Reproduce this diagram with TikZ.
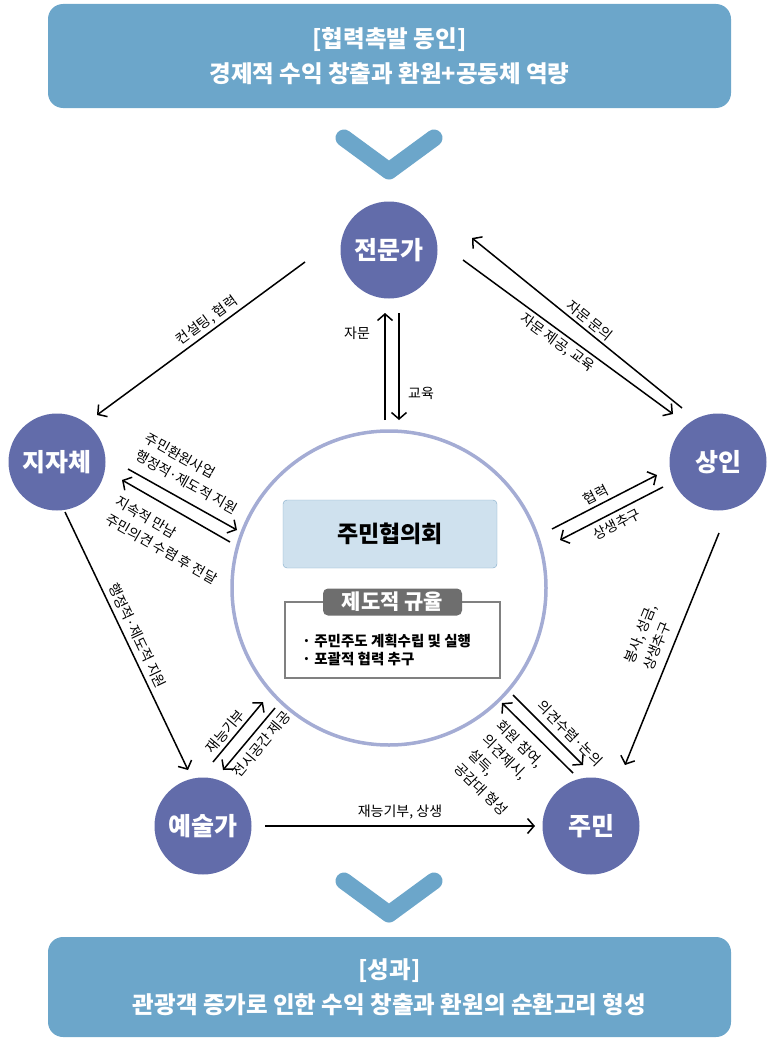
\documentclass[tikz,border=0pt]{standalone}
\usepackage{fontspec}
\setmainfont{Noto Sans CJK KR}
\usetikzlibrary{arrows.meta}
\definecolor{bannerblue}{RGB}{108,166,202}
\definecolor{nodeblue}{RGB}{98,108,170}
\definecolor{ringblue}{RGB}{164,172,212}
\definecolor{boxfill}{RGB}{207,225,238}
\definecolor{boxline}{RGB}{130,170,200}
\definecolor{tabgray}{RGB}{110,110,110}
\definecolor{boxgray}{RGB}{128,128,128}
\begin{document}
\begin{tikzpicture}[x=1pt,y=-1pt,
 banner/.style={fill=bannerblue, rounded corners=15pt, minimum width=683pt, text=white,
   font=\fontsize{23.5}{35}\selectfont\bfseries, align=center, inner sep=0pt},
 actor/.style={circle, fill=nodeblue, minimum size=97pt, inner sep=0pt, text=white,
   font=\fontsize{25}{28}\selectfont\bfseries},
 conn/.style={line width=1.5pt, -{Straight Barb[length=6.5pt,width=15pt,line width=1.5pt]}},
 lbl/.style={font=\fontsize{14}{20}\selectfont, inner sep=3pt, align=left},
 chev/.style={line width=17pt, line cap=round, line join=round, draw=bannerblue}
]
\useasboundingbox (0,0) rectangle (767,1041);

% banners
\node[banner, minimum height=104pt] (top) at (389.5,56) {[협력촉발 동인]\\경제적 수익 창출과 환원+공동체 역량};
\node[banner, minimum height=100pt] (bot) at (389.5,987) {[성과]\\관광객 증가로 인한 수익 창출과 환원의 순환고리 형성};

% chevrons
\draw[chev] (344,138) -- (389,171) -- (434,138);
\draw[chev] (344,881) -- (389,914) -- (434,881);

% ring and centre
\node[circle, draw=ringblue, line width=3.5pt, minimum size=314pt, inner sep=0pt] (ring) at (389,588) {};
\node[draw=boxline, fill=boxfill, rounded corners=4pt, minimum width=214pt, minimum height=68pt,
  font=\fontsize{23}{26}\selectfont\bfseries] (council) at (390,534) {주민협의회};
\node[draw=boxgray, line width=1.2pt, fill=white, minimum width=215pt, minimum height=76pt] (rules) at (392.5,640) {};
\node[fill=tabgray, rounded corners=5pt, minimum width=139pt, minimum height=27pt, inner sep=0pt,
  text=white, font=\fontsize{21}{24}\selectfont\bfseries] (tab) at (392.5,602) {제도적 규율};
\node[anchor=west, align=left, inner sep=0pt, font=\fontsize{14.5}{18}\selectfont\bfseries] (bul) at (302,650)
  {· 주민주도 계획수립 및 실행\\· 포괄적 협력 추구};

% actors
\node[actor] (exp) at (389,250) {전문가};
\node[actor] (gov) at (57,462) {지자체};
\node[actor] (mer) at (718,462) {상인};
\node[actor] (art) at (203,826) {예술가};
\node[actor] (res) at (591,826) {주민};

% connector ends
\coordinate (e1a) at (305,262); \coordinate (e1b) at (97,415);
\coordinate (e2a) at (682,408); \coordinate (e2b) at (472,238);
\coordinate (e3a) at (463,260); \coordinate (e3b) at (673,414);
\coordinate (e4a) at (385,420); \coordinate (e4b) at (385,313);
\coordinate (e5a) at (399,313); \coordinate (e5b) at (399,420);
\coordinate (e6a) at (128,469); \coordinate (e6b) at (237,530);
\coordinate (e7a) at (230,542); \coordinate (e7b) at (122,480);
\coordinate (e8a) at (65,512);  \coordinate (e8b) at (188,770);
\coordinate (e9a) at (552,529); \coordinate (e9b) at (657,475);
\coordinate (e10a) at (663,487); \coordinate (e10b) at (560,540);
\coordinate (e11a) at (719,533); \coordinate (e11b) at (625,765);
\coordinate (e12a) at (213,762); \coordinate (e12b) at (263,702);
\coordinate (e13a) at (275,708); \coordinate (e13b) at (223,770);
\coordinate (e14a) at (513,695); \coordinate (e14b) at (583,765);
\coordinate (e15a) at (573,773); \coordinate (e15b) at (502,703);
\coordinate (e16a) at (265,826); \coordinate (e16b) at (535,826);

% connectors
\draw[conn] (e1a) -- node[lbl, sloped, above, pos=0.44] {컨설팅, 협력} (e1b);
\draw[conn] (e2a) -- node[lbl, sloped, above, pos=0.47] {자문 문의} (e2b);
\draw[conn] (e3a) -- node[lbl, sloped, below, pos=0.48] {자문 제공, 교육} (e3b);
\draw[conn] (e4a) -- (e4b);
\draw[conn] (e5a) -- (e5b);
\node[lbl] (lz) at (357,333) {자문};
\node[lbl] (lg) at (421,393) {교육};
\draw[conn] (e6a) -- node[lbl, sloped, above, pos=0.46, inner sep=10pt] {주민환원사업\\행정적·제도적 지원} (e6b);
\draw[conn] (e7a) -- node[lbl, sloped, below, pos=0.45, inner sep=13pt] {지속적 만남\\주민의견 수렴 후 전달} (e7b);
\draw[conn] (e8a) -- node[lbl, sloped, above, pos=0.5, inner sep=5pt] {행정적·제도적 지원} (e8b);
\draw[conn] (e9a) -- node[lbl, sloped, above, pos=0.46] {협력} (e9b);
\draw[conn] (e10a) -- node[lbl, sloped, below, pos=0.5, inner sep=5pt] {상생추구} (e10b);
\draw[conn] (e11a) -- node[lbl, sloped, above, pos=0.49, inner sep=8pt] {봉사, 성금,\\상생추구} (e11b);
\draw[conn] (e12a) -- node[lbl, sloped, above, pos=0.4] {재능기부} (e12b);
\draw[conn] (e13a) -- node[lbl, sloped, below, pos=0.45, inner sep=6pt] {전시공간 제공} (e13b);
\draw[conn] (e14a) -- node[lbl, sloped, above, pos=0.68, inner sep=6pt] {의견수렴·논의} (e14b);
\draw[conn] (e15a) -- node[lbl, sloped, below, pos=0.54, inner sep=9pt] {회원 참여,\\의견제시,\\설득,\\공감대 형성} (e15b);
\draw[conn] (e16a) -- node[lbl, above, pos=0.5, inner sep=6pt] {재능기부, 상생} (e16b);
\end{tikzpicture}
\end{document}
